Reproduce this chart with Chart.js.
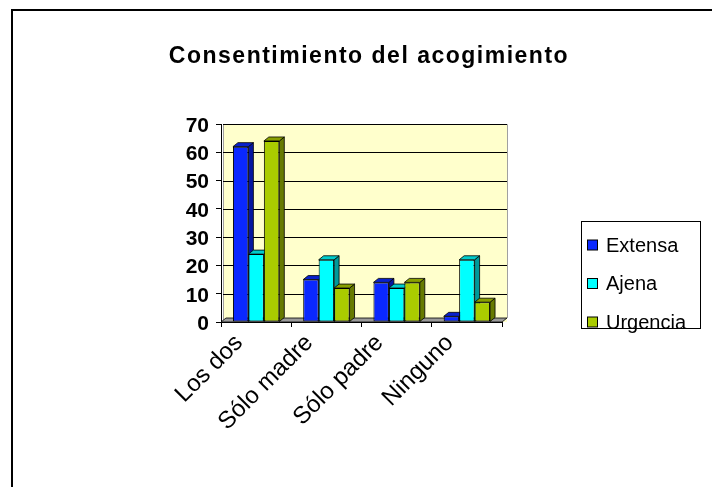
<!DOCTYPE html>
<html>
<head>
<meta charset="utf-8">
<script src="https://cdn.jsdelivr.net/npm/chart.js@4.4.0/dist/chart.umd.min.js"></script>
<style>
  html, body { margin: 0; padding: 0; background: #fff; }
</style>
</head>
<body>
<canvas id="chart" width="712" height="487"></canvas>
<script>
const categories = ['Los dos', 'Sólo madre', 'Sólo padre', 'Ninguno'];
const seriesNames = ['Extensa', 'Ajena', 'Urgencia'];
const extensa = [62, 15, 14, 2];
const ajena = [24, 22, 12, 22];
const urgencia = [64, 12, 14, 7];
const yMax = 70;
const yStep = 10;
const chartTitle = 'Consentimiento del acogimiento';

// front / side / top colours for the fake 3D look
const palette = [
  { front: '#0A28FF', side: '#0616A0', top: '#0820CC' },
  { front: '#00FFFF', side: '#009A9A', top: '#00CCCC' },
  { front: '#AACC00', side: '#667A00', top: '#889F00' }
];

const depth = { dx: 5, dy: 4 };
const font = "'Liberation Sans', Arial, sans-serif";

function poly(ctx, pts, fill) {
  ctx.beginPath();
  ctx.moveTo(pts[0][0], pts[0][1]);
  for (let i = 1; i < pts.length; i++) ctx.lineTo(pts[i][0], pts[i][1]);
  ctx.closePath();
  ctx.fillStyle = fill;
  ctx.fill();
  ctx.lineWidth = 0.8;
  ctx.strokeStyle = '#000';
  ctx.stroke();
}

const frame3d = {
  id: 'frame3d',
  beforeDraw(chart) {
    const { ctx, chartArea: a } = chart;
    ctx.save();
    ctx.fillStyle = '#fff';
    ctx.fillRect(0, 0, chart.width, chart.height);
    // outer frame (only top and left are inside the picture)
    ctx.fillStyle = '#000';
    ctx.fillRect(11, 9, chart.width, 2);
    ctx.fillRect(11, 9, 2, chart.height);
    // back wall
    ctx.fillStyle = '#FFFFCC';
    ctx.fillRect(a.left + 2, a.top, a.right - a.left + depth.dx - 2, a.bottom - a.top);
    ctx.strokeStyle = '#A0A0A0';
    ctx.lineWidth = 1;
    ctx.beginPath();
    ctx.moveTo(a.left + 2.5, a.bottom);
    ctx.lineTo(a.left + 2.5, a.top + 0.5);
    ctx.lineTo(a.right + depth.dx + 0.5, a.top + 0.5);
    ctx.lineTo(a.right + depth.dx + 0.5, a.bottom - depth.dy);
    ctx.stroke();
    // gridlines from the y scale
    const ys = chart.scales.y;
    ctx.strokeStyle = '#000';
    ys.ticks.forEach(t => {
      if (t.value === 0) return;
      const y = Math.round(ys.getPixelForValue(t.value)) + 0.5;
      ctx.beginPath();
      ctx.moveTo(a.left + 2, y);
      ctx.lineTo(a.right + depth.dx, y);
      ctx.stroke();
    });
    ctx.restore();
  },
  beforeDatasetsDraw(chart) {
    const { ctx, chartArea: a } = chart;
    ctx.save();
    // floor
    const fb = chart.scales.y.getPixelForValue(0);
    poly(ctx, [[a.left, fb], [a.right, fb], [a.right + depth.dx, fb - depth.dy], [a.left + depth.dx, fb - depth.dy]], '#9A9A9A');
    // sides and tops of the bars, left to right
    chart.data.datasets.forEach((ds, i) => {
      const c = palette[i];
      chart.getDatasetMeta(i).data.forEach(bar => {
        const p = bar.getProps(['x', 'y', 'base', 'width'], true);
        const l = p.x - p.width / 2, r = p.x + p.width / 2;
        poly(ctx, [[r, p.y], [r + depth.dx, p.y - depth.dy], [r + depth.dx, p.base - depth.dy], [r, p.base]], c.side);
        poly(ctx, [[l, p.y], [r, p.y], [r + depth.dx, p.y - depth.dy], [l + depth.dx, p.y - depth.dy]], c.top);
      });
    });
    ctx.restore();
  },
  afterDraw(chart) {
    const { ctx } = chart;
    ctx.save();
    // title
    ctx.fillStyle = '#000';
    ctx.font = 'bold 23px ' + font;
    ctx.letterSpacing = '1.5px';
    ctx.textAlign = 'center';
    ctx.textBaseline = 'alphabetic';
    ctx.fillText(chartTitle, 369, 63);
    ctx.letterSpacing = '0px';
    // legend
    ctx.lineWidth = 1;
    ctx.strokeStyle = '#000';
    ctx.strokeRect(581.5, 221.5, 119, 107);
    ctx.font = '20px ' + font;
    ctx.textAlign = 'left';
    ctx.textBaseline = 'middle';
    chart.data.datasets.forEach((ds, i) => {
      const cy = 245 + i * 38.5;
      ctx.fillStyle = palette[i].front;
      ctx.fillRect(587.5, cy - 5, 10, 10);
      ctx.strokeRect(587.5, cy - 5, 10, 10);
      ctx.fillStyle = '#000';
      ctx.fillText(ds.label, 606, cy + 1);
    });
    ctx.restore();
  }
};

new Chart(document.getElementById('chart'), {
  type: 'bar',
  data: {
    labels: categories,
    datasets: [extensa, ajena, urgencia].map((vals, i) => ({
      label: seriesNames[i],
      data: vals,
      backgroundColor: palette[i].front,
      borderColor: '#000',
      borderWidth: 1,
      borderSkipped: false,
      barPercentage: 1,
      categoryPercentage: 0.66
    }))
  },
  options: {
    responsive: false,
    animation: false,
    layout: { padding: { left: 0, top: 124, right: 210, bottom: 45 } },
    plugins: {
      legend: { display: false },
      title: { display: false },
      tooltip: { enabled: false }
    },
    scales: {
      x: {
        afterFit(s) { s.height = 120; },
        grid: { offset: true, drawOnChartArea: false, tickLength: 5, tickColor: '#000' },
        border: { color: '#000' },
        ticks: {
          color: '#000',
          font: { family: font, size: 24 },
          minRotation: 45,
          maxRotation: 45,
          labelOffset: -17,
          padding: 2
        }
      },
      y: {
        min: 0,
        max: yMax,
        afterFit(s) { s.width = 221; },
        grid: { drawOnChartArea: false, tickLength: 5, tickColor: '#000' },
        border: { color: '#000' },
        ticks: {
          stepSize: yStep,
          color: '#000',
          font: { family: font, size: 21, weight: 'bold' },
          labelOffset: 2,
          padding: 7
        }
      }
    }
  },
  plugins: [frame3d]
});
</script>
</body>
</html>
